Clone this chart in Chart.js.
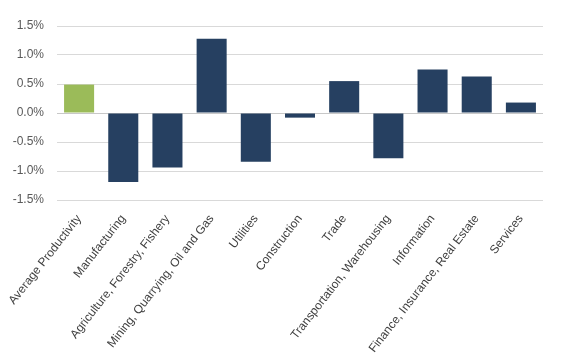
<!DOCTYPE html>
<html>
<head>
<meta charset="utf-8">
<script src="https://cdn.jsdelivr.net/npm/chart.js@4/dist/chart.umd.min.js"></script>
<style>
html,body{margin:0;padding:0;background:#fff;}
#wrap{width:571px;height:359px;position:relative;}
</style>
</head>
<body>
<div id="wrap"><canvas id="c" width="571" height="359"></canvas></div>
<script>
const categories = ["Average Productivity","Manufacturing","Agriculture, Forestry, Fishery","Mining, Quarrying, Oil and Gas","Utilities","Construction","Trade","Transportation, Warehousing","Information","Finance, Insurance, Real Estate","Services"];
const values = [0.49, -1.19, -0.94, 1.28, -0.84, -0.08, 0.55, -0.78, 0.75, 0.63, 0.18];
const barColors = ["#9BBB59","#264061","#264061","#264061","#264061","#264061","#264061","#264061","#264061","#264061","#264061"];
const yMin = -1.5, yMax = 1.5, yStep = 0.5;

const font = {family: "'Liberation Sans', Arial, sans-serif", size: 12};
new Chart(document.getElementById('c'), {
  type: 'bar',
  data: {
    labels: categories,
    datasets: [{
      data: values,
      backgroundColor: barColors,
      borderWidth: 0,
      barPercentage: 0.68,
      categoryPercentage: 1.0
    }]
  },
  options: {
    responsive: false,
    animation: false,
    layout: {padding: {top: 26, right: 28, left: 0, bottom: 0}},
    plugins: {legend: {display: false}, tooltip: {enabled: false}},
    scales: {
      x: {
        grid: {display: false, drawTicks: false},
        border: {display: false},
        ticks: {
          autoSkip: false, minRotation: 52, maxRotation: 52,
          color: '#404040', font: font, padding: 12
        },
        afterFit(scale) { scale.height = 159; scale.paddingLeft = 0; scale.paddingRight = 0; }
      },
      y: {
        min: yMin, max: yMax,
        grid: {
          drawTicks: false,
          color: (ctx) => (ctx.tick && ctx.tick.value === 0) ? '#c8c8c8' : '#d9d9d9',
          lineWidth: 1
        },
        border: {display: false},
        ticks: {
          stepSize: yStep, color: '#595959', font: font, padding: 13,
          callback: (v) => v.toFixed(1) + '%'
        },
        afterFit(scale) { scale.width = 57; }
      }
    }
  }
});
</script>
</body>
</html>
